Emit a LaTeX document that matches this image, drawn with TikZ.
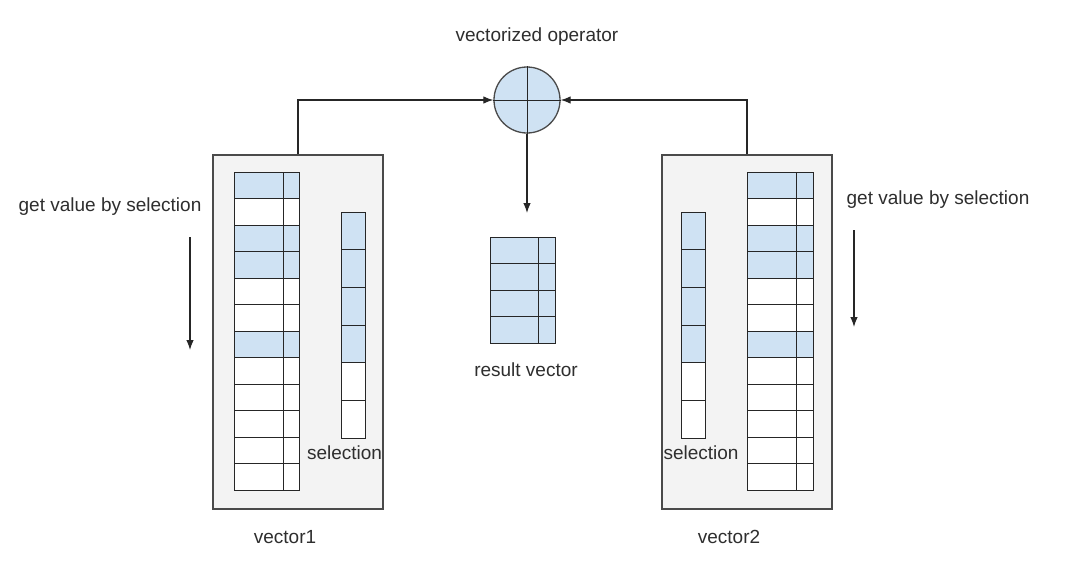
\documentclass[tikz,border=0pt]{standalone}
\usepackage{fontspec}
\setmainfont{Liberation Sans}
\usetikzlibrary{arrows.meta}
\definecolor{cellblue}{HTML}{CFE2F3}
\definecolor{boxgray}{HTML}{F3F3F3}
\definecolor{boxline}{HTML}{4A4A4A}
\definecolor{txt}{HTML}{2E2E2E}
\tikzset{
  lbl/.style={font=\fontsize{19}{22}\selectfont, text=txt, inner sep=0pt},
  panel/.style={draw=boxline, fill=boxgray, line width=1.2pt, inner sep=0pt},
  cell/.style={draw=black!85, line width=1pt, inner sep=0pt, fill=white},
  hcell/.style={cell, fill=cellblue},
  conn/.style={draw=black!85, line width=1.2pt, -{Latex[length=10pt,width=7.5pt]}},
}
\begin{document}
\begin{tikzpicture}[x=1pt,y=-1pt]
\useasboundingbox (0,0) rectangle (1080,565);
\fill[white] (0,0) rectangle (1080,565);

% panels
\node[panel, minimum width=170pt, minimum height=354pt] (box1) at (298,332) {};
\node[panel, minimum width=170pt, minimum height=354pt] (box2) at (747,332) {};

% vector1 and vector2 rows
\foreach \i in {0,...,11}{
  \pgfmathsetmacro{\yc}{172+26.5*(\i+0.5)}
  \ifnum\i=0 \def\st{hcell}\else\ifnum\i=2 \def\st{hcell}\else\ifnum\i=3 \def\st{hcell}\else\ifnum\i=6 \def\st{hcell}\else\def\st{cell}\fi\fi\fi\fi
  \node[\st, minimum width=65pt, minimum height=26.5pt] (va\i) at (266.5,\yc) {};
  \node[\st, minimum width=66pt, minimum height=26.5pt] (vb\i) at (780,\yc) {};
}
\draw[black!85, line width=1pt] (283,172) -- (283,490);
\draw[black!85, line width=1pt] (796,172) -- (796,490);

% selections
\foreach \i in {0,...,5}{
  \pgfmathsetmacro{\yc}{212+37.67*(\i+0.5)}
  \ifnum\i<4 \def\st{hcell}\else\def\st{cell}\fi
  \node[\st, minimum width=24pt, minimum height=37.67pt] (sa\i) at (353,\yc) {};
  \node[\st, minimum width=24pt, minimum height=37.67pt] (sb\i) at (693,\yc) {};
}

% result vector
\foreach \i in {0,...,3}{
  \pgfmathsetmacro{\yc}{237+26.5*(\i+0.5)}
  \node[hcell, minimum width=65pt, minimum height=26.5pt] (r\i) at (522.5,\yc) {};
}
\draw[black!85, line width=1pt] (538,237) -- (538,343);

% operator
\node[circle, draw=boxline, fill=cellblue, line width=1.3pt, minimum size=66pt, inner sep=0pt] (op) at (527,100) {};
\draw[black!85, line width=1pt] (op.north) -- (op.south);
\draw[black!85, line width=1pt] (op.west) -- (op.east);

% labels
\node[lbl] (oplbl) at (537,37) {vectorized operator};
\node[lbl] (g1) at (110,207) {get value by selection};
\node[lbl] (g2) at (938,200) {get value by selection};
\node[lbl] (sl1) at (344.5,453) {selection};
\node[lbl] (sl2) at (701,453) {selection};
\node[lbl] (rl) at (526,370) {result vector};
\node[lbl] (v1l) at (285,537) {vector1};
\node[lbl] (v2l) at (729,537) {vector2};

% connectors
\draw[conn] (box1.north) |- (op.west);
\draw[conn] (box2.north) |- (op.east);
\coordinate (resin) at (527,213);
\draw[conn] (op.south) -- (resin);
\coordinate (a1s) at (190,237);
\coordinate (a1e) at (190,350);
\draw[conn] (a1s) -- (a1e);
\coordinate (a2s) at (854,230);
\coordinate (a2e) at (854,327);
\draw[conn] (a2s) -- (a2e);
\end{tikzpicture}
\end{document}
